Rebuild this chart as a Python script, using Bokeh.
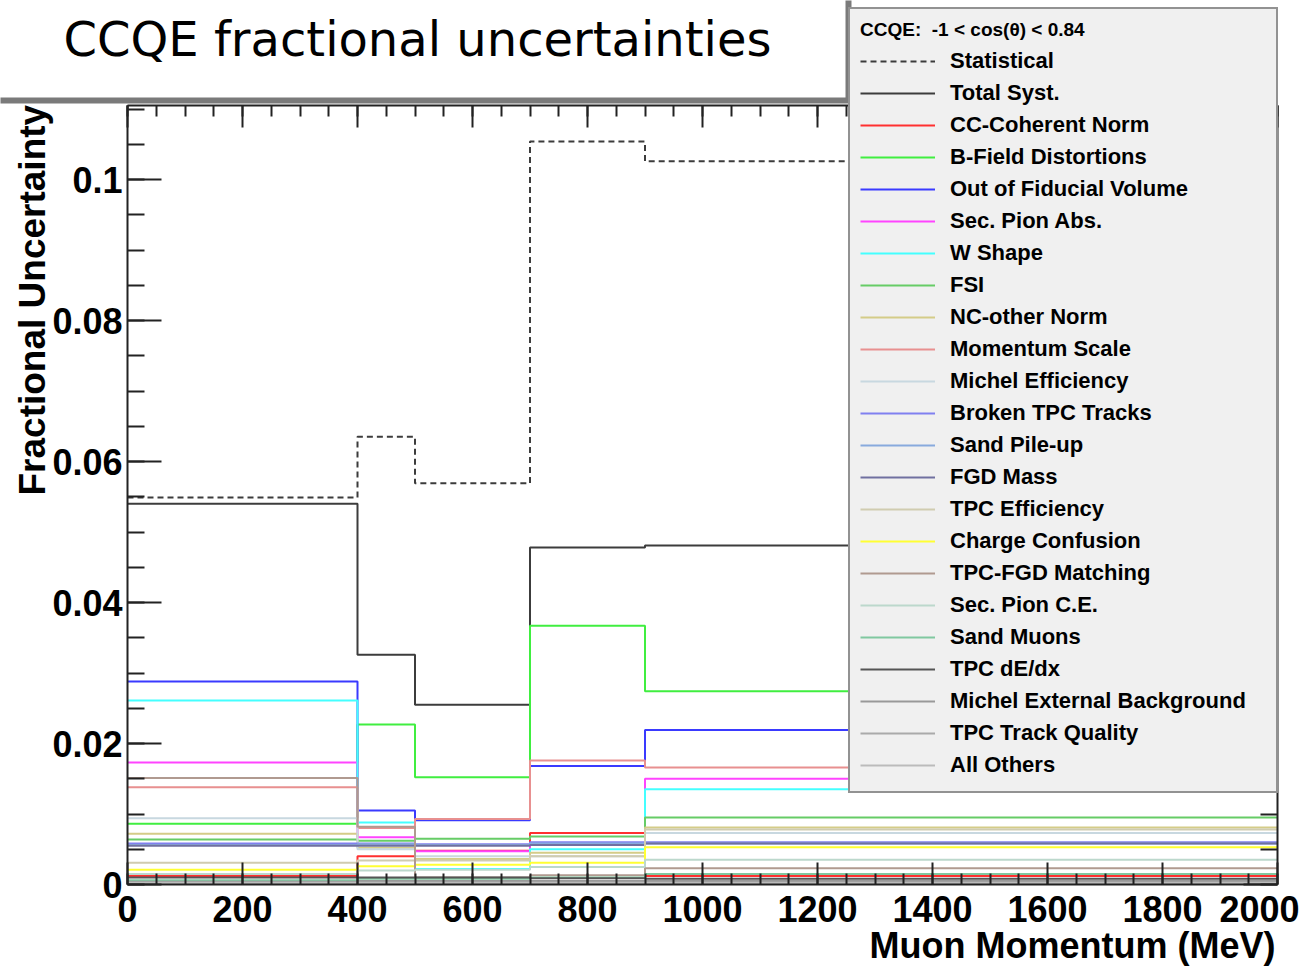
import math

from bokeh.plotting import figure
from bokeh.models import Range1d, FixedTicker, LinearAxis, Label, BoxAnnotation
from bokeh.embed import file_html
from bokeh.resources import INLINE

# Muon momentum bin edges (MeV)
edges = [0, 400, 500, 700, 900, 2000]

# Fractional uncertainty per momentum bin
statistical = [0.0549, 0.0635, 0.0569, 0.1054, 0.1026]
total_syst = [0.0540, 0.0326, 0.0255, 0.0478, 0.0481]
cc_coherent_norm = [0.0012, 0.0040, 0.0048, 0.0073, 0.0012]
bfield_distortions = [0.0086, 0.0227, 0.0152, 0.0367, 0.0274]
out_of_fv = [0.0288, 0.0105, 0.0091, 0.0168, 0.0219]
sec_pion_abs = [0.0173, 0.0067, 0.0047, 0.0058, 0.0150]
w_shape = [0.0261, 0.0088, 0.0022, 0.0050, 0.0135]
fsi = [0.0064, 0.0062, 0.0065, 0.0068, 0.0095]
nc_other_norm = [0.0072, 0.0052, 0.0036, 0.0045, 0.0081]
momentum_scale = [0.0138, 0.0080, 0.0093, 0.0176, 0.0166]
michel_efficiency = [0.0094, 0.0050, 0.0040, 0.0040, 0.0073]
broken_tpc_tracks = [0.0058, 0.0058, 0.0057, 0.0060, 0.0060]
sand_pileup = [0.0056, 0.0057, 0.0056, 0.0058, 0.0058]
fgd_mass = [0.0055, 0.0055, 0.0055, 0.0056, 0.0058]
tpc_efficiency = [0.0031, 0.0034, 0.0034, 0.0040, 0.0078]
charge_confusion = [0.0021, 0.0026, 0.0028, 0.0031, 0.0053]
tpc_fgd_matching = [0.0151, 0.0082, 0.0010, 0.0013, 0.0023]
sec_pion_ce = [0.0015, 0.0020, 0.0021, 0.0025, 0.0035]
sand_muons = [0.0006, 0.0008, 0.0008, 0.0010, 0.0015]
tpc_dedx = [0.0010, 0.0010, 0.0010, 0.0009, 0.0008]
michel_ext_bkg = [0.0004, 0.0005, 0.0005, 0.0005, 0.0005]
tpc_track_quality = [0.0003, 0.0003, 0.0003, 0.0003, 0.0003]
all_others = [0.0002, 0.0002, 0.0002, 0.0002, 0.0002]

x_ticks = [0, 200, 400, 600, 800, 1000, 1200, 1400, 1600, 1800, 2000]
y_ticks = [0, 0.02, 0.04, 0.06, 0.08, 0.1]
y_tick_labels = ["0", "0.02", "0.04", "0.06", "0.08", "0.1"]

# (label, values, colour, dash)
series = [
    ("Statistical", statistical, "#3c3c3c", "6 4"),
    ("Total Syst.", total_syst, "#3c3c3c", "solid"),
    ("CC-Coherent Norm", cc_coherent_norm, "#ff3030", "solid"),
    ("B-Field Distortions", bfield_distortions, "#40ee40", "solid"),
    ("Out of Fiducial Volume", out_of_fv, "#3a3aff", "solid"),
    ("Sec. Pion Abs.", sec_pion_abs, "#ff44ff", "solid"),
    ("W Shape", w_shape, "#44ffff", "solid"),
    ("FSI", fsi, "#66cc66", "solid"),
    ("NC-other Norm", nc_other_norm, "#d4cc88", "solid"),
    ("Momentum Scale", momentum_scale, "#e89090", "solid"),
    ("Michel Efficiency", michel_efficiency, "#c8d8e0", "solid"),
    ("Broken TPC Tracks", broken_tpc_tracks, "#8080f0", "solid"),
    ("Sand Pile-up", sand_pileup, "#88aadd", "solid"),
    ("FGD Mass", fgd_mass, "#7070a0", "solid"),
    ("TPC Efficiency", tpc_efficiency, "#d0ccb0", "solid"),
    ("Charge Confusion", charge_confusion, "#ffff33", "solid"),
    ("TPC-FGD Matching", tpc_fgd_matching, "#b09a90", "solid"),
    ("Sec. Pion C.E.", sec_pion_ce, "#bcd8cc", "solid"),
    ("Sand Muons", sand_muons, "#80c8a0", "solid"),
    ("TPC dE/dx", tpc_dedx, "#555555", "solid"),
    ("Michel External Background", michel_ext_bkg, "#999999", "solid"),
    ("TPC Track Quality", tpc_track_quality, "#aaaaaa", "solid"),
    ("All Others", all_others, "#bbbbbb", "solid"),
]

X_MAX = 2000
Y_MAX = 0.1105

# The frame fills the whole canvas; the histogram box (0..2000, 0..Y_MAX)
# sits at pixels 127..1277 horizontally and 105..884 vertically, so titles,
# the header pave and the legend can all live inside the frame.
W, H = 1299, 967
BOX_L, BOX_R, BOX_T, BOX_B = 127, 1277, 105, 884

def dx(px):
    return (px - BOX_L) * X_MAX / (BOX_R - BOX_L)

def dy(py):
    return (BOX_B - py) * Y_MAX / (BOX_B - BOX_T)

p = figure(
    width=W, height=H,
    output_backend="svg", toolbar_location=None,
    x_range=Range1d(dx(0), dx(W)), y_range=Range1d(dy(H), dy(0)),
    min_border=0, min_border_left=0, min_border_right=0,
    min_border_top=0, min_border_bottom=0,
    background_fill_color="white", border_fill_color="white",
)
p.xgrid.visible = False
p.ygrid.visible = False
p.outline_line_color = None

# histogram outlines
for label, vals, color, dash in series:
    p.step(x=edges, y=list(vals) + [vals[-1]], mode="after",
           line_color=color, line_width=2, line_dash=dash,
           legend_label=label)

# ROOT-style axes: ticks pointing into the box on all four sides
x_minor = list(range(0, X_MAX + 1, 50))
y_minor = [i * 0.005 for i in range(0, 23)]

x_bottom = p.below[0]
y_left = p.left[0]
x_top = LinearAxis()
y_right = LinearAxis()
p.add_layout(x_top, "above")
p.add_layout(y_right, "right")

x_bottom.fixed_location = 0
x_top.fixed_location = Y_MAX
y_left.fixed_location = 0
y_right.fixed_location = X_MAX

for ax in (x_bottom, x_top):
    ax.bounds = (0, X_MAX)
    ax.ticker = FixedTicker(ticks=x_ticks, minor_ticks=x_minor)
    ax.major_tick_in = 22
    ax.minor_tick_in = 11
for ax in (y_left, y_right):
    ax.bounds = (0, Y_MAX)
    ax.ticker = FixedTicker(ticks=y_ticks, minor_ticks=y_minor)
    ax.major_tick_in = 34
    ax.minor_tick_in = 17

for ax in (x_bottom, y_left, x_top, y_right):
    ax.major_tick_out = 0
    ax.minor_tick_out = 0
    ax.axis_line_color = "#222222"
    ax.axis_line_width = 2
    ax.major_tick_line_color = "#222222"
    ax.major_tick_line_width = 2
    ax.minor_tick_line_color = "#222222"
    ax.minor_tick_line_width = 2
    ax.major_label_text_font = "Liberation Sans"
    ax.major_label_text_font_style = "bold"
    ax.major_label_text_font_size = "36px"
    ax.major_label_text_color = "black"

for ax in (x_top, y_right):
    ax.major_label_text_color = None

x_bottom.major_label_standoff = 11
y_left.major_label_standoff = 5
y_left.major_label_overrides = {t: s for t, s in zip(y_ticks, y_tick_labels)}

# axis titles
p.add_layout(Label(
    x=dx(32), y=dy(495), text="Fractional Uncertainty", angle=math.pi / 2,
    text_font="Liberation Sans", text_font_style="bold", text_font_size="37px",
    text_align="left", text_baseline="alphabetic", text_color="black"))

p.add_layout(Label(
    x=dx(1275), y=dy(945), text="Muon Momentum (MeV)",
    text_font="Liberation Sans", text_font_style="bold", text_font_size="36px",
    text_align="right", text_baseline="alphabetic", text_color="black"))

# header pave
p.add_layout(BoxAnnotation(
    left=dx(-60), right=dx(848), bottom=dy(100), top=dy(-60),
    fill_color="white", fill_alpha=1.0,
    line_color="#7a7a7a", line_width=6, line_alpha=1.0))
p.add_layout(Label(
    x=dx(63), y=dy(38), text="CCQE fractional uncertainties",
    text_font="DejaVu Sans", text_font_size="48px",
    text_align="left", text_baseline="alphabetic", text_color="black"))

# legend (location is its bottom-left corner, measured from the frame's bottom-left)
leg = p.legend[0]
leg.location = (848, H - 793)
leg.title = "CCQE:  -1 < cos(θ) < 0.84"
leg.title_text_font = "Liberation Sans"
leg.title_text_font_style = "bold"
leg.title_text_font_size = "19px"
leg.title_text_color = "black"
leg.title_standoff = 4
leg.label_text_font = "Liberation Sans"
leg.label_text_font_style = "bold"
leg.label_text_font_size = "22px"
leg.label_text_color = "black"
leg.glyph_width = 75
leg.glyph_height = 32
leg.label_height = 32
leg.label_width = 316
leg.label_standoff = 15
leg.spacing = 0
leg.padding = 10
leg.margin = 0
leg.background_fill_color = "#f0f0f0"
leg.background_fill_alpha = 1.0
leg.border_line_color = "#333333"
leg.border_line_width = 2

open("out.html", "w").write(file_html(p, INLINE))
